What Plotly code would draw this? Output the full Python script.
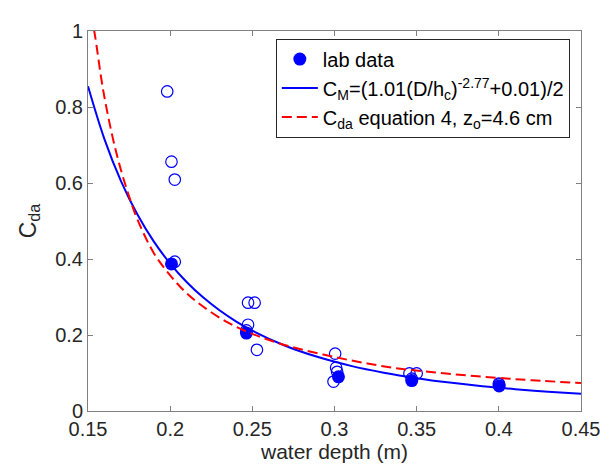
import plotly.graph_objects as go

# Lab data: filled markers
lab_depth = [0.2008, 0.2464, 0.3024, 0.3470, 0.4002]
lab_cda = [0.387, 0.205, 0.090, 0.080, 0.066]

# Individual runs: open markers
run_depth = [0.1982, 0.2008, 0.2028, 0.2028, 0.2474, 0.2514, 0.2474, 0.2464, 0.2528,
             0.3004, 0.3010, 0.3016, 0.2994, 0.3456, 0.3500, 0.3470, 0.4000, 0.4002]
run_cda = [0.841, 0.656, 0.609, 0.393, 0.285, 0.285, 0.227, 0.212, 0.161,
           0.151, 0.114, 0.103, 0.0775, 0.099, 0.099, 0.085, 0.072, 0.070]

# Fitted curve C_M
cm_depth = [0.15, 0.16, 0.17, 0.18, 0.19, 0.20, 0.21, 0.22, 0.23, 0.24, 0.25,
            0.27, 0.29, 0.31, 0.33, 0.35, 0.37, 0.39, 0.41, 0.43, 0.45]
cm_val = [0.8546, 0.7156, 0.6058, 0.5178, 0.4464, 0.3879, 0.3395, 0.2991, 0.2651,
          0.2361, 0.2114, 0.1718, 0.1419, 0.1188, 0.1007, 0.0863, 0.0747, 0.0652,
          0.0574, 0.0509, 0.0455]

# Equation 4 curve
eq_depth = [0.15, 0.1538, 0.159, 0.165, 0.170, 0.175, 0.180, 0.190, 0.200, 0.210,
            0.220, 0.235, 0.250, 0.265, 0.280, 0.300, 0.320, 0.340, 0.360, 0.380,
            0.400, 0.420, 0.450]
eq_val = [1.08, 1.00, 0.85, 0.72, 0.635, 0.565, 0.505, 0.416, 0.357, 0.310,
          0.275, 0.233, 0.203, 0.180, 0.162, 0.142, 0.125, 0.111, 0.102, 0.094,
          0.087, 0.081, 0.0735]

x_ticks = [0.15, 0.2, 0.25, 0.3, 0.35, 0.4, 0.45]
x_tick_text = ["0.15", "0.2", "0.25", "0.3", "0.35", "0.4", "0.45"]
y_ticks = [0, 0.2, 0.4, 0.6, 0.8, 1]
y_tick_text = ["0", "0.2", "0.4", "0.6", "0.8", "1"]

BLUE = "rgb(0,0,255)"
RED = "rgb(255,0,0)"
FONT = "Liberation Sans, Arial, sans-serif"
TXT = "#262626"

fig = go.Figure()

fig.add_trace(go.Scatter(
    x=run_depth, y=run_cda, mode="markers", showlegend=False,
    marker=dict(symbol="circle-open", size=11.5, color=BLUE, line=dict(width=1.2, color=BLUE)),
))
fig.add_trace(go.Scatter(
    x=lab_depth, y=lab_cda, mode="markers", name="lab data",
    marker=dict(symbol="circle", size=13, color=BLUE),
))
fig.add_trace(go.Scatter(
    x=cm_depth, y=cm_val, mode="lines", line_shape="spline",
    name="C<sub>M</sub>=(1.01(D/h<sub>c</sub>)<sup>-2.77</sup>+0.01)/2",
    line=dict(color=BLUE, width=2),
))
fig.add_trace(go.Scatter(
    x=eq_depth, y=eq_val, mode="lines", line_shape="spline",
    name="C<sub>da</sub> equation 4, z<sub>o</sub>=4.6 cm",
    line=dict(color=RED, width=2, dash="10px,5px"),
))

axis_common = dict(
    showgrid=False, zeroline=False, showline=True, linecolor="#808080", linewidth=1,
    mirror="ticks", ticks="inside", ticklen=5, tickcolor="#808080",
    tickfont=dict(family=FONT, size=20, color=TXT),
)

# page body has an 8px margin, so the figure is sized/offset to compensate
fig.update_layout(
    width=604, height=459,
    margin=dict(l=80, r=20, t=14, b=54),
    paper_bgcolor="white", plot_bgcolor="white",
    font=dict(family=FONT, color=TXT, size=20),
    xaxis=dict(range=[0.15, 0.45], tickvals=x_ticks, ticktext=x_tick_text,
               title=dict(text="water depth (m)", font=dict(size=21, color=TXT), standoff=0),
               **axis_common),
    yaxis=dict(range=[0, 1], tickvals=y_ticks, ticktext=y_tick_text,
               title=dict(text="C<sub>da</sub>", font=dict(size=23, color=TXT), standoff=12),
               **axis_common),
    legend=dict(x=0.381, y=0.98, xanchor="left", yanchor="top",
                bgcolor="white", bordercolor="#262626", borderwidth=1,
                font=dict(family=FONT, size=20, color="black"),
                tracegroupgap=0, itemwidth=36),
)

fig.write_html("out.html")
